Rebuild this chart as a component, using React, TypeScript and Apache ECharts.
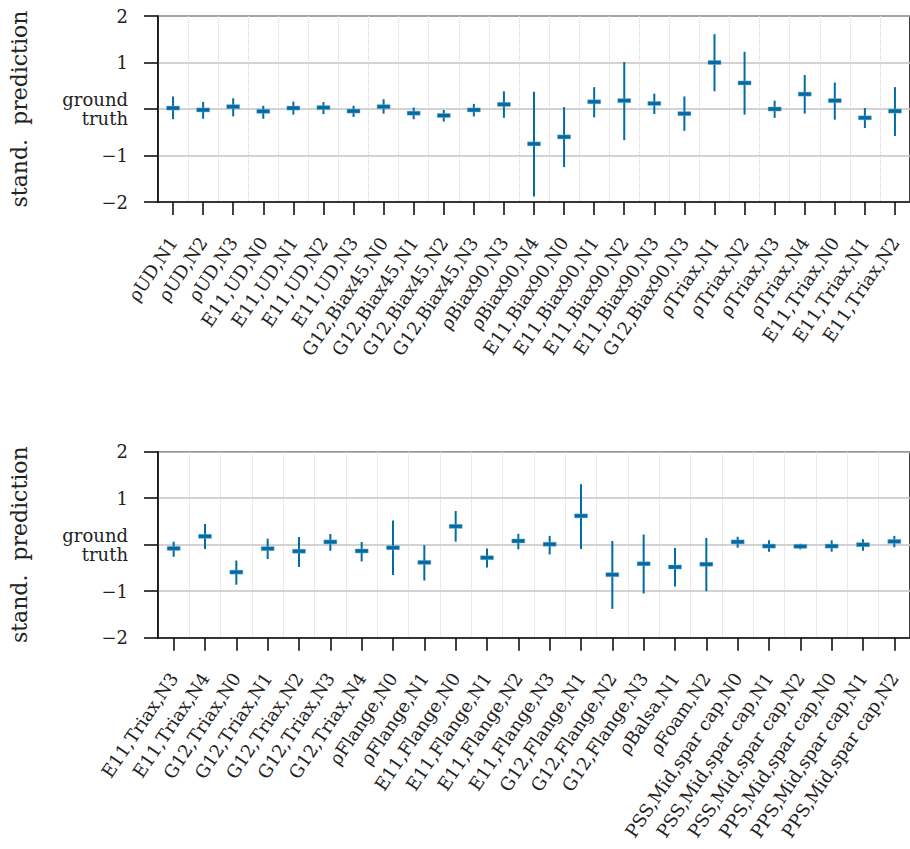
import React, { useEffect, useRef } from "react";
import * as echarts from "echarts";

const topLabels = [
  "ρUD,N1", "ρUD,N2", "ρUD,N3", "E11,UD,N0", "E11,UD,N1", "E11,UD,N2", "E11,UD,N3",
  "G12,Biax45,N0", "G12,Biax45,N1", "G12,Biax45,N2", "G12,Biax45,N3", "ρBiax90,N3", "ρBiax90,N4",
  "E11,Biax90,N0", "E11,Biax90,N1", "E11,Biax90,N2", "E11,Biax90,N3", "G12,Biax90,N3",
  "ρTriax,N1", "ρTriax,N2", "ρTriax,N3", "ρTriax,N4", "E11,Triax,N0", "E11,Triax,N1", "E11,Triax,N2",
];
const topMean = [0.02, -0.02, 0.05, -0.05, 0.02, 0.03, -0.045, 0.05, -0.09, -0.14, -0.02, 0.1, -0.75, -0.6, 0.155, 0.18, 0.12, -0.1, 1.0, 0.56, 0.0, 0.32, 0.18, -0.19, -0.045];
const topLow = [-0.22, -0.21, -0.16, -0.21, -0.12, -0.11, -0.17, -0.1, -0.22, -0.27, -0.16, -0.19, -1.88, -1.25, -0.18, -0.67, -0.11, -0.47, 0.38, -0.12, -0.19, -0.1, -0.23, -0.41, -0.58];
const topHigh = [0.27, 0.15, 0.23, 0.07, 0.16, 0.15, 0.07, 0.21, 0.03, -0.02, 0.11, 0.38, 0.37, 0.04, 0.47, 1.01, 0.33, 0.27, 1.61, 1.23, 0.18, 0.73, 0.57, 0.02, 0.47];

const bottomLabels = [
  "E11,Triax,N3", "E11,Triax,N4", "G12,Triax,N0", "G12,Triax,N1", "G12,Triax,N2", "G12,Triax,N3", "G12,Triax,N4",
  "ρFlange,N0", "ρFlange,N1", "E11,Flange,N0", "E11,Flange,N1", "E11,Flange,N2", "E11,Flange,N3",
  "G12,Flange,N1", "G12,Flange,N2", "G12,Flange,N3", "ρBalsa,N1", "ρFoam,N2",
  "PSS,Mid,spar cap,N0", "PSS,Mid,spar cap,N1", "PSS,Mid,spar cap,N2",
  "PPS,Mid,spar cap,N0", "PPS,Mid,spar cap,N1", "PPS,Mid,spar cap,N2",
];
const bottomMean = [-0.08, 0.18, -0.59, -0.085, -0.14, 0.06, -0.135, -0.065, -0.38, 0.395, -0.28, 0.08, 0.01, 0.62, -0.645, -0.41, -0.48, -0.42, 0.06, -0.03, -0.035, -0.03, 0.0, 0.07];
const bottomLow = [-0.26, -0.09, -0.86, -0.31, -0.48, -0.13, -0.36, -0.65, -0.77, 0.065, -0.49, -0.1, -0.21, -0.09, -1.38, -1.05, -0.9, -1.0, -0.065, -0.15, -0.1, -0.15, -0.13, -0.055];
const bottomHigh = [0.065, 0.445, -0.34, 0.13, 0.165, 0.23, 0.06, 0.52, -0.01, 0.725, -0.08, 0.235, 0.19, 1.3, 0.08, 0.22, -0.07, 0.145, 0.17, 0.095, 0.02, 0.095, 0.115, 0.19];

const COLOR = "#006BA4";
const FONT = "DejaVu Serif";

function yLabel(v: number) {
  if (v === 0) return "ground\ntruth";
  if (v < 0) return "\u2212" + Math.abs(v);
  return String(v);
}

function renderItem(params: any, api: any) {
  const x = api.value(0);
  const pm = api.coord([x, api.value(1)]);
  const pl = api.coord([x, api.value(2)]);
  const ph = api.coord([x, api.value(3)]);
  return {
    type: "group",
    children: [
      {
        type: "line",
        shape: { x1: pl[0], y1: pl[1], x2: ph[0], y2: ph[1] },
        style: { stroke: COLOR, lineWidth: 2 },
      },
      {
        type: "rect",
        shape: { x: pm[0] - 6.5, y: pm[1] - 2, width: 13, height: 4 },
        style: { fill: COLOR, stroke: "rgba(120,170,200,0.6)", lineWidth: 0.8 },
      },
    ],
  };
}

function makeData(mean: number[], lo: number[], hi: number[]) {
  return mean.map((m, i) => [i, m, lo[i], hi[i]]);
}

export default function App() {
  const ref = useRef<HTMLDivElement>(null);
  useEffect(() => {
    if (!ref.current) return;
    const chart = echarts.init(ref.current, null, { renderer: "svg" });
    const grids = [
      { left: 157, top: 16, width: 760, height: 186 },
      { left: 157, top: 451.7, width: 760, height: 186 },
    ].map((g) => ({ ...g, show: true, borderColor: "#111", borderWidth: 1.6, backgroundColor: "transparent" }));

    const xAxes = [topLabels, bottomLabels].map((labels, i) => ({
      type: "category",
      gridIndex: i,
      data: labels,
      boundaryGap: true,
      axisLine: { show: true, onZero: false, lineStyle: { color: "#111", width: 1.6 } },
      axisTick: { show: true, alignWithLabel: true, length: 13, lineStyle: { color: "#111", width: 1.6 } },
      axisLabel: {
        interval: 0,
        rotate: 56,
        margin: 37,
        color: "#222",
        fontFamily: FONT,
        fontSize: 18,
      },
      splitLine: { show: true, interval: 0, lineStyle: { color: "#d4d4d4", width: 1, type: "dotted" } },
    }));

    const yAxes = [0, 1].map((i) => ({
      type: "value",
      gridIndex: i,
      min: -2,
      max: 2,
      interval: 1,
      name: "stand.  prediction",
      nameLocation: "middle",
      nameGap: 128,
      nameRotate: 90,
      nameTextStyle: { fontFamily: FONT, fontSize: 22, color: "#222" },
      axisLine: { show: true, lineStyle: { color: "#111", width: 1.6 } },
      axisTick: { show: true, length: 14, lineStyle: { color: "#111", width: 1.6 } },
      axisLabel: {
        margin: 30,
        color: "#222",
        fontFamily: FONT,
        fontSize: 18,
        lineHeight: 19,
        align: "right",
        formatter: (v: number) => yLabel(v),
      },
      splitLine: { show: true, lineStyle: { color: "#c4c4c4", width: 1.6 } },
    }));

    chart.setOption({
      animation: false,
      backgroundColor: "#ffffff",
      grid: grids,
      xAxis: xAxes,
      yAxis: yAxes,
      series: [
        {
          type: "custom",
          xAxisIndex: 0,
          yAxisIndex: 0,
          renderItem,
          encode: { x: 0, y: [1, 2, 3] },
          data: makeData(topMean, topLow, topHigh),
        },
        {
          type: "custom",
          xAxisIndex: 1,
          yAxisIndex: 1,
          renderItem,
          encode: { x: 0, y: [1, 2, 3] },
          data: makeData(bottomMean, bottomLow, bottomHigh),
        },
      ],
    });
    return () => chart.dispose();
  }, []);

  return (
    <div
      ref={ref}
      style={{ position: "absolute", left: 0, top: 0, width: 910, height: 849, background: "#fff" }}
    />
  );
}
